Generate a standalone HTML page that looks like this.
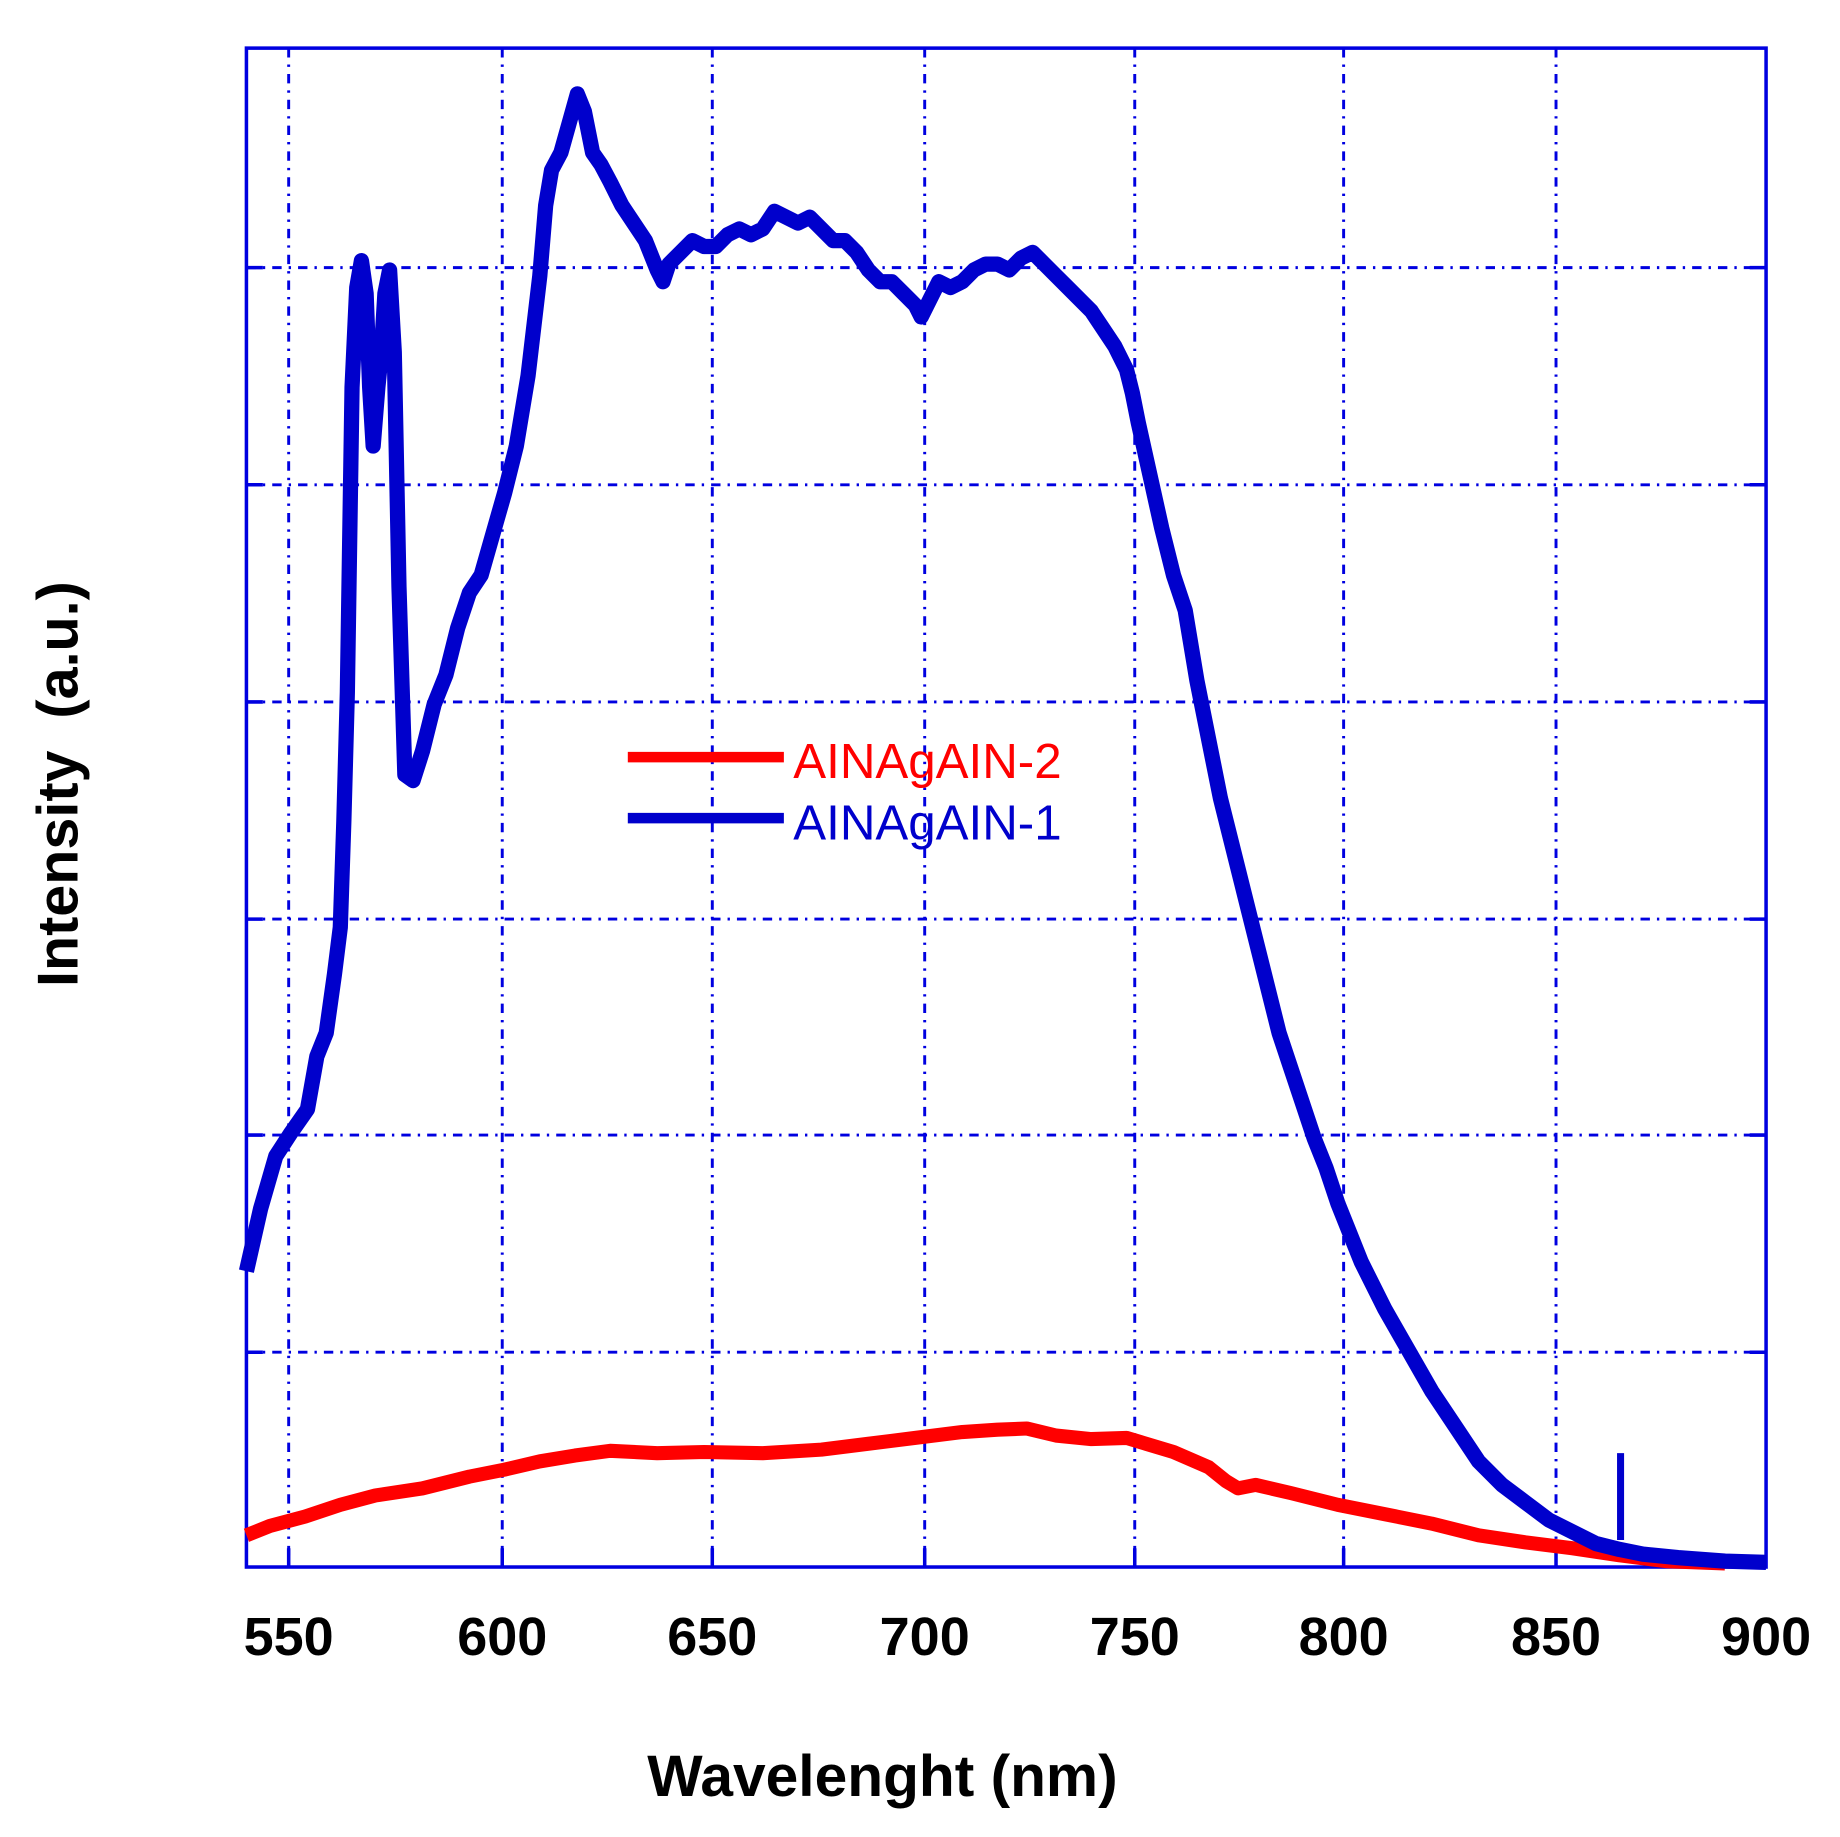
<!DOCTYPE html>
<html><head><meta charset="utf-8"><style>html,body{margin:0;padding:0;background:#fff}svg{display:block}</style></head>
<body>
<svg width="1840" height="1837" viewBox="0 0 1568 1565" preserveAspectRatio="none" xmlns="http://www.w3.org/2000/svg" font-family="Liberation Sans, sans-serif">
<rect width="1568" height="1565" fill="#fff"/>
<g stroke="#0000e0" stroke-width="2.5" stroke-dasharray="8 6 2 6" fill="none">
<path d="M246 41V1335M428 41V1335M607 41V1335M788 41V1335M967 41V1335M1145 41V1335M1326 41V1335"/>
<path d="M210 228H1505M210 413H1505M210 598H1505M210 783H1505M210 967H1505M210 1152H1505"/>
</g>
<g stroke="#0000e0" stroke-width="3" fill="none">
<rect x="210" y="41" width="1295" height="1294"/>
<path d="M246 1335v-16M428 1335v-16M607 1335v-16M788 1335v-16M967 1335v-16M1145 1335v-16M1326 1335v-16"/>
<path d="M210 228h14M210 413h14M210 598h14M210 783h14M210 967h14M210 1152h14M1505 228h-14M1505 413h-14M1505 598h-14M1505 783h-14M1505 967h-14M1505 1152h-14"/>
</g>
<polyline fill="none" stroke="#ff0000" stroke-width="12" stroke-linejoin="round" points="210,1308 230,1300 260,1292 290,1282 320,1274 360,1268 400,1258 430,1252 460,1245 490,1240 520,1236 560,1238 600,1237 650,1238 700,1235 740,1230 780,1225 820,1220 850,1218 875,1217 900,1223 930,1226 960,1225 1000,1237 1030,1250 1045,1262 1055,1268 1070,1265 1100,1272 1140,1282 1180,1290 1220,1298 1260,1308 1300,1314 1340,1319 1380,1325 1420,1330 1470,1332"/>
<polyline fill="none" stroke="#0000cc" stroke-width="13" stroke-linejoin="round" points="210,1083 222,1030 235,985 248,965 262,945 270,900 278,880 285,830 290,790 293,700 296,590 300,330 304,245 308,222 312,250 315,330 318,380 322,330 325,300 328,250 332,230 336,300 340,500 345,660 352,665 360,640 370,600 380,575 390,535 400,505 410,490 420,455 430,420 440,380 450,320 460,235 465,175 470,145 478,130 485,105 492,80 498,95 505,130 512,140 520,155 530,175 540,190 550,205 560,230 565,240 570,225 580,215 590,205 600,210 610,210 620,200 630,195 640,200 650,195 660,180 670,185 680,190 690,185 700,195 710,205 720,205 730,215 740,230 750,240 760,240 770,250 780,260 785,270 790,260 800,240 810,245 820,240 830,230 840,225 850,225 860,230 870,220 880,215 890,225 900,235 910,245 920,255 930,265 940,280 950,295 960,315 965,335 970,360 980,405 990,450 1000,490 1010,520 1020,580 1030,630 1040,680 1050,720 1060,760 1070,800 1080,840 1090,880 1100,910 1110,940 1120,970 1130,995 1140,1025 1150,1050 1160,1075 1170,1095 1180,1115 1200,1150 1220,1185 1240,1215 1260,1245 1280,1265 1300,1280 1320,1295 1340,1305 1360,1315 1380,1320 1400,1324 1430,1327 1470,1330 1505,1331"/>
<path d="M1381 1238V1312" stroke="#0000cc" stroke-width="6"/>
<path d="M535 645H668" stroke="#ff0000" stroke-width="9"/>
<path d="M535 697H668" stroke="#0000cc" stroke-width="9"/>
<text x="676" y="663" font-size="42" fill="#ff0000">AINAgAIN-2</text>
<text x="676" y="715" font-size="42" fill="#0000cc">AINAgAIN-1</text>
<g font-size="46" font-weight="bold" text-anchor="middle" fill="#000">
<text x="246" y="1410">550</text><text x="428" y="1410">600</text><text x="607" y="1410">650</text><text x="788" y="1410">700</text><text x="967" y="1410">750</text><text x="1145" y="1410">800</text><text x="1326" y="1410">850</text><text x="1505" y="1410">900</text>
<text x="752" y="1530" font-size="50">Wavelenght (nm)</text>
<text transform="translate(66,668) rotate(-90)" font-size="49" xml:space="preserve">Intensity  (a.u.)</text>
</g>
</svg>
</body></html>
